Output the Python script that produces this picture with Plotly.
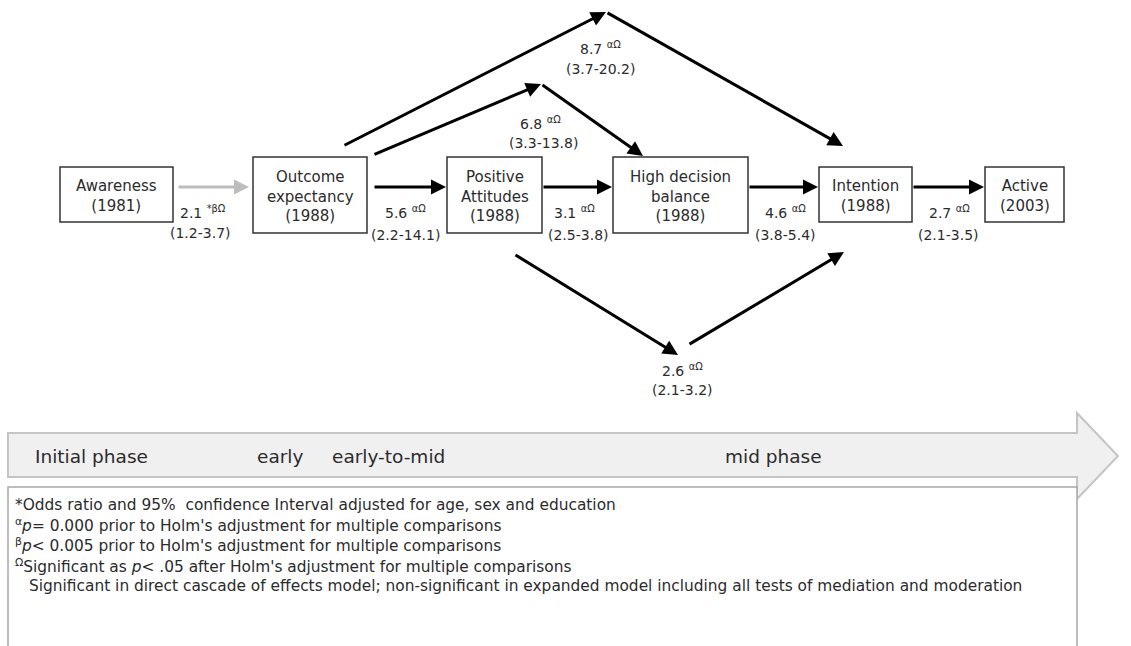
import plotly.graph_objects as go

# ---- data ----
node_labels = ["Awareness<br>(1981)", "Outcome<br>expectancy<br>(1988)", "Positive<br>Attitudes<br>(1988)",
               "High decision<br>balance<br>(1988)", "Intention<br>(1988)", "Active<br>(2003)"]
edge_from = [0, 1, 2, 3, 4, 1, 1, 2]
edge_to = [1, 2, 3, 4, 5, 4, 3, 4]
odds_ratio = ["2.1", "5.6", "3.1", "4.6", "2.7", "8.7", "6.8", "2.6"]
conf_int = ["(1.2-3.7)", "(2.2-14.1)", "(2.5-3.8)", "(3.8-5.4)", "(2.1-3.5)", "(3.7-20.2)", "(3.3-13.8)", "(2.1-3.2)"]
sig_marks = ["*βΩ", "αΩ", "αΩ", "αΩ", "αΩ", "αΩ", "αΩ", "αΩ"]
phase_labels = ["Initial phase", "early", "early-to-mid", "mid phase"]
footnotes = [
    "*Odds ratio and 95%  confidence Interval adjusted for age, sex and education",
    "<sup>α</sup><i>p</i>= 0.000 prior to Holm's adjustment for multiple comparisons",
    "<sup>β</sup><i>p</i>< 0.005 prior to Holm's adjustment for multiple comparisons",
    "<sup>Ω</sup>Significant as <i>p</i>< .05 after Holm's adjustment for multiple comparisons",
    "Significant in direct cascade of effects model; non-significant in expanded model including all tests of mediation and moderation",
]

# ---- layout geometry (pixels) ----
box_x0 = [60, 253, 447, 613, 819, 985]
box_x1 = [173, 367, 542, 748, 912, 1064]
box_y0 = [167, 157, 157, 157, 167, 167]
box_y1 = [222, 233, 233, 233, 222, 222]
edge_paths = [
    [(177, 187), (249, 187)],
    [(373, 187), (446, 187)],
    [(542, 187), (612, 187)],
    [(748, 187), (818, 187)],
    [(912, 187), (984, 187)],
    [(343, 146), (606, 12), (843, 146)],
    [(373, 155), (541, 84), (643, 156)],
    [(514, 254), (678, 355), None, (688, 345), (844, 252)],
]
edge_colors = ["#bdbdbd", "black", "black", "black", "black", "black", "black", "black"]
label_pos = [(203, 212, 200, 233), (405, 212, 405, 235), (574, 212, 578, 235), (785, 212, 785, 235),
             (949, 212, 948, 235), (600, 48, 600, 69), (540, 123, 543, 143), (682, 370, 682, 390)]
phase_x = [33, 255, 330, 723]
foot_y = [505, 525, 545, 566, 586]
foot_x = [13, 13, 13, 13, 27]

FONT = "DejaVu Sans, Verdana, sans-serif"
TXT = "#2b2b2b"

fig = go.Figure()
shapes = []
annotations = []

shapes.append(dict(type="path", xref="x", yref="y",
                   path="M 8 433 L 1077 433 L 1077 413 L 1118 456 L 1077 499 L 1077 477 L 8 477 Z",
                   fillcolor="#f0f0f0", line=dict(color="#c4c4c4", width=2), layer="below"))
shapes.append(dict(type="rect", xref="x", yref="y", x0=8, x1=1077, y0=487, y1=652,
                   fillcolor="white", line=dict(color="#a8a8a8", width=1.5), layer="below"))

for i, lab in enumerate(node_labels):
    shapes.append(dict(type="rect", xref="x", yref="y", x0=box_x0[i], x1=box_x1[i], y0=box_y0[i], y1=box_y1[i],
                       fillcolor="white", line=dict(color="#333333", width=1.5)))
    annotations.append(dict(x=(box_x0[i] + box_x1[i]) / 2, y=(box_y0[i] + box_y1[i]) / 2 + 1, xref="x", yref="y",
                            text=lab, showarrow=False, font=dict(family=FONT, size=15, color=TXT),
                            xanchor="center", yanchor="middle"))

for k in range(len(odds_ratio)):
    pts = edge_paths[k]
    col = edge_colors[k]
    segs = []
    cur = []
    for p in pts:
        if p is None:
            segs.append(cur)
            cur = []
        else:
            cur.append(p)
    segs.append(cur)
    for seg in segs:
        for j in range(len(seg) - 1):
            (ax_, ay_), (hx, hy) = seg[j], seg[j + 1]
            annotations.append(dict(x=hx, y=hy, ax=ax_, ay=ay_, xref="x", yref="y", axref="x", ayref="y",
                                    text="", showarrow=True, arrowhead=2, arrowsize=1.0, arrowwidth=3,
                                    arrowcolor=col, standoff=0, startstandoff=0))
    lx, ly, cx, cy = label_pos[k]
    annotations.append(dict(x=lx, y=ly, xref="x", yref="y",
                            text=odds_ratio[k] + " <sup>" + sig_marks[k] + "</sup>",
                            showarrow=False, font=dict(family=FONT, size=14, color=TXT),
                            xanchor="center", yanchor="middle"))
    annotations.append(dict(x=cx, y=cy, xref="x", yref="y", text=conf_int[k],
                            showarrow=False, font=dict(family=FONT, size=14, color=TXT),
                            xanchor="center", yanchor="middle"))

for i, ph in enumerate(phase_labels):
    annotations.append(dict(x=phase_x[i], y=456, xref="x", yref="y", text=ph, showarrow=False,
                            font=dict(family=FONT, size=18.5, color=TXT), xanchor="left", yanchor="middle"))

for i, fn in enumerate(footnotes):
    annotations.append(dict(x=foot_x[i], y=foot_y[i], xref="x", yref="y", text=fn, showarrow=False,
                            font=dict(family=FONT, size=15.4, color=TXT), xanchor="left", yanchor="middle"))

fig.update_layout(
    width=1131, height=646, margin=dict(l=0, r=0, t=0, b=0),
    paper_bgcolor="white", plot_bgcolor="white",
    xaxis=dict(range=[0, 1131], visible=False, fixedrange=True),
    yaxis=dict(range=[646, 0], visible=False, fixedrange=True),
    shapes=shapes, annotations=annotations, showlegend=False,
)

fig.write_html("out.html", config={"displayModeBar": False},
               post_script="document.body.style.margin='0';")
